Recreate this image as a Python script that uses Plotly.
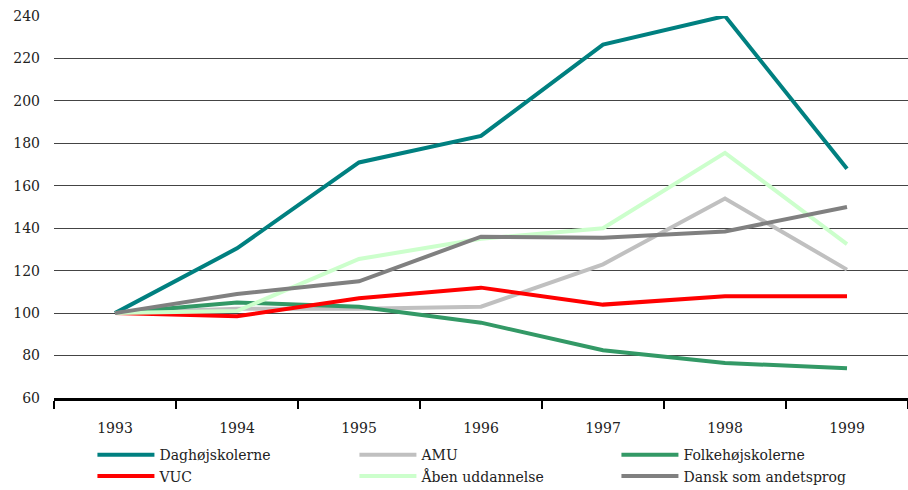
import plotly.graph_objects as go

years = ["1993", "1994", "1995", "1996", "1997", "1998", "1999"]

daghojskolerne = [100, 130.5, 171, 183.5, 226.5, 240, 168]
amu = [100, 102, 102, 103, 123, 154, 120.5]
folkehojskolerne = [100, 105, 103, 95.5, 82.5, 76.5, 74]
vuc = [100, 98.5, 107, 112, 104, 108, 108]
aaben_uddannelse = [100, 101, 125.5, 135, 140, 175.5, 132.5]
dansk_andetsprog = [100, 109, 115, 136, 135.5, 138.5, 150]

series = [
    ("Daghøjskolerne", daghojskolerne, "#008080"),
    ("AMU", amu, "#C0C0C0"),
    ("Folkehøjskolerne", folkehojskolerne, "#339966"),
    ("VUC", vuc, "#FF0000"),
    ("Åben uddannelse", aaben_uddannelse, "#CCFFCC"),
    ("Dansk som andetsprog", dansk_andetsprog, "#808080"),
]

serif = "DejaVu Serif"

fig = go.Figure()
for name, values, color in series:
    fig.add_trace(go.Scatter(
        x=years, y=values, name=name, mode="lines",
        line=dict(color=color, width=4),
    ))

fig.update_layout(
    width=908, height=490,
    margin=dict(l=54, r=0, t=16, b=92, autoexpand=False),
    paper_bgcolor="white", plot_bgcolor="white",
    font=dict(family=serif, size=14, color="#222"),
    showlegend=True,
    legend=dict(
        orientation="h", x=0.045, xanchor="left", y=-0.108, yanchor="top",
        entrywidth=190, entrywidthmode="pixels",
        font=dict(family=serif, size=14, color="#222"),
        itemwidth=57, tracegroupgap=0,
    ),
    xaxis=dict(
        type="category", range=[-0.5, 6.5],
        showline=True, linecolor="black", linewidth=3,
        ticks="outside", tickson="boundaries", ticklen=8, tickwidth=2,
        tickcolor="black", showgrid=False, ticklabelstandoff=15,
        tickfont=dict(family=serif, size=14),
    ),
    yaxis=dict(
        range=[60, 240], dtick=20, tick0=60,
        showline=False, showgrid=True, gridcolor="#444", gridwidth=1,
        zeroline=False, ticks="", ticklabelstandoff=13,
        tickfont=dict(family=serif, size=14),
    ),
)

fig.write_html("out.html")
